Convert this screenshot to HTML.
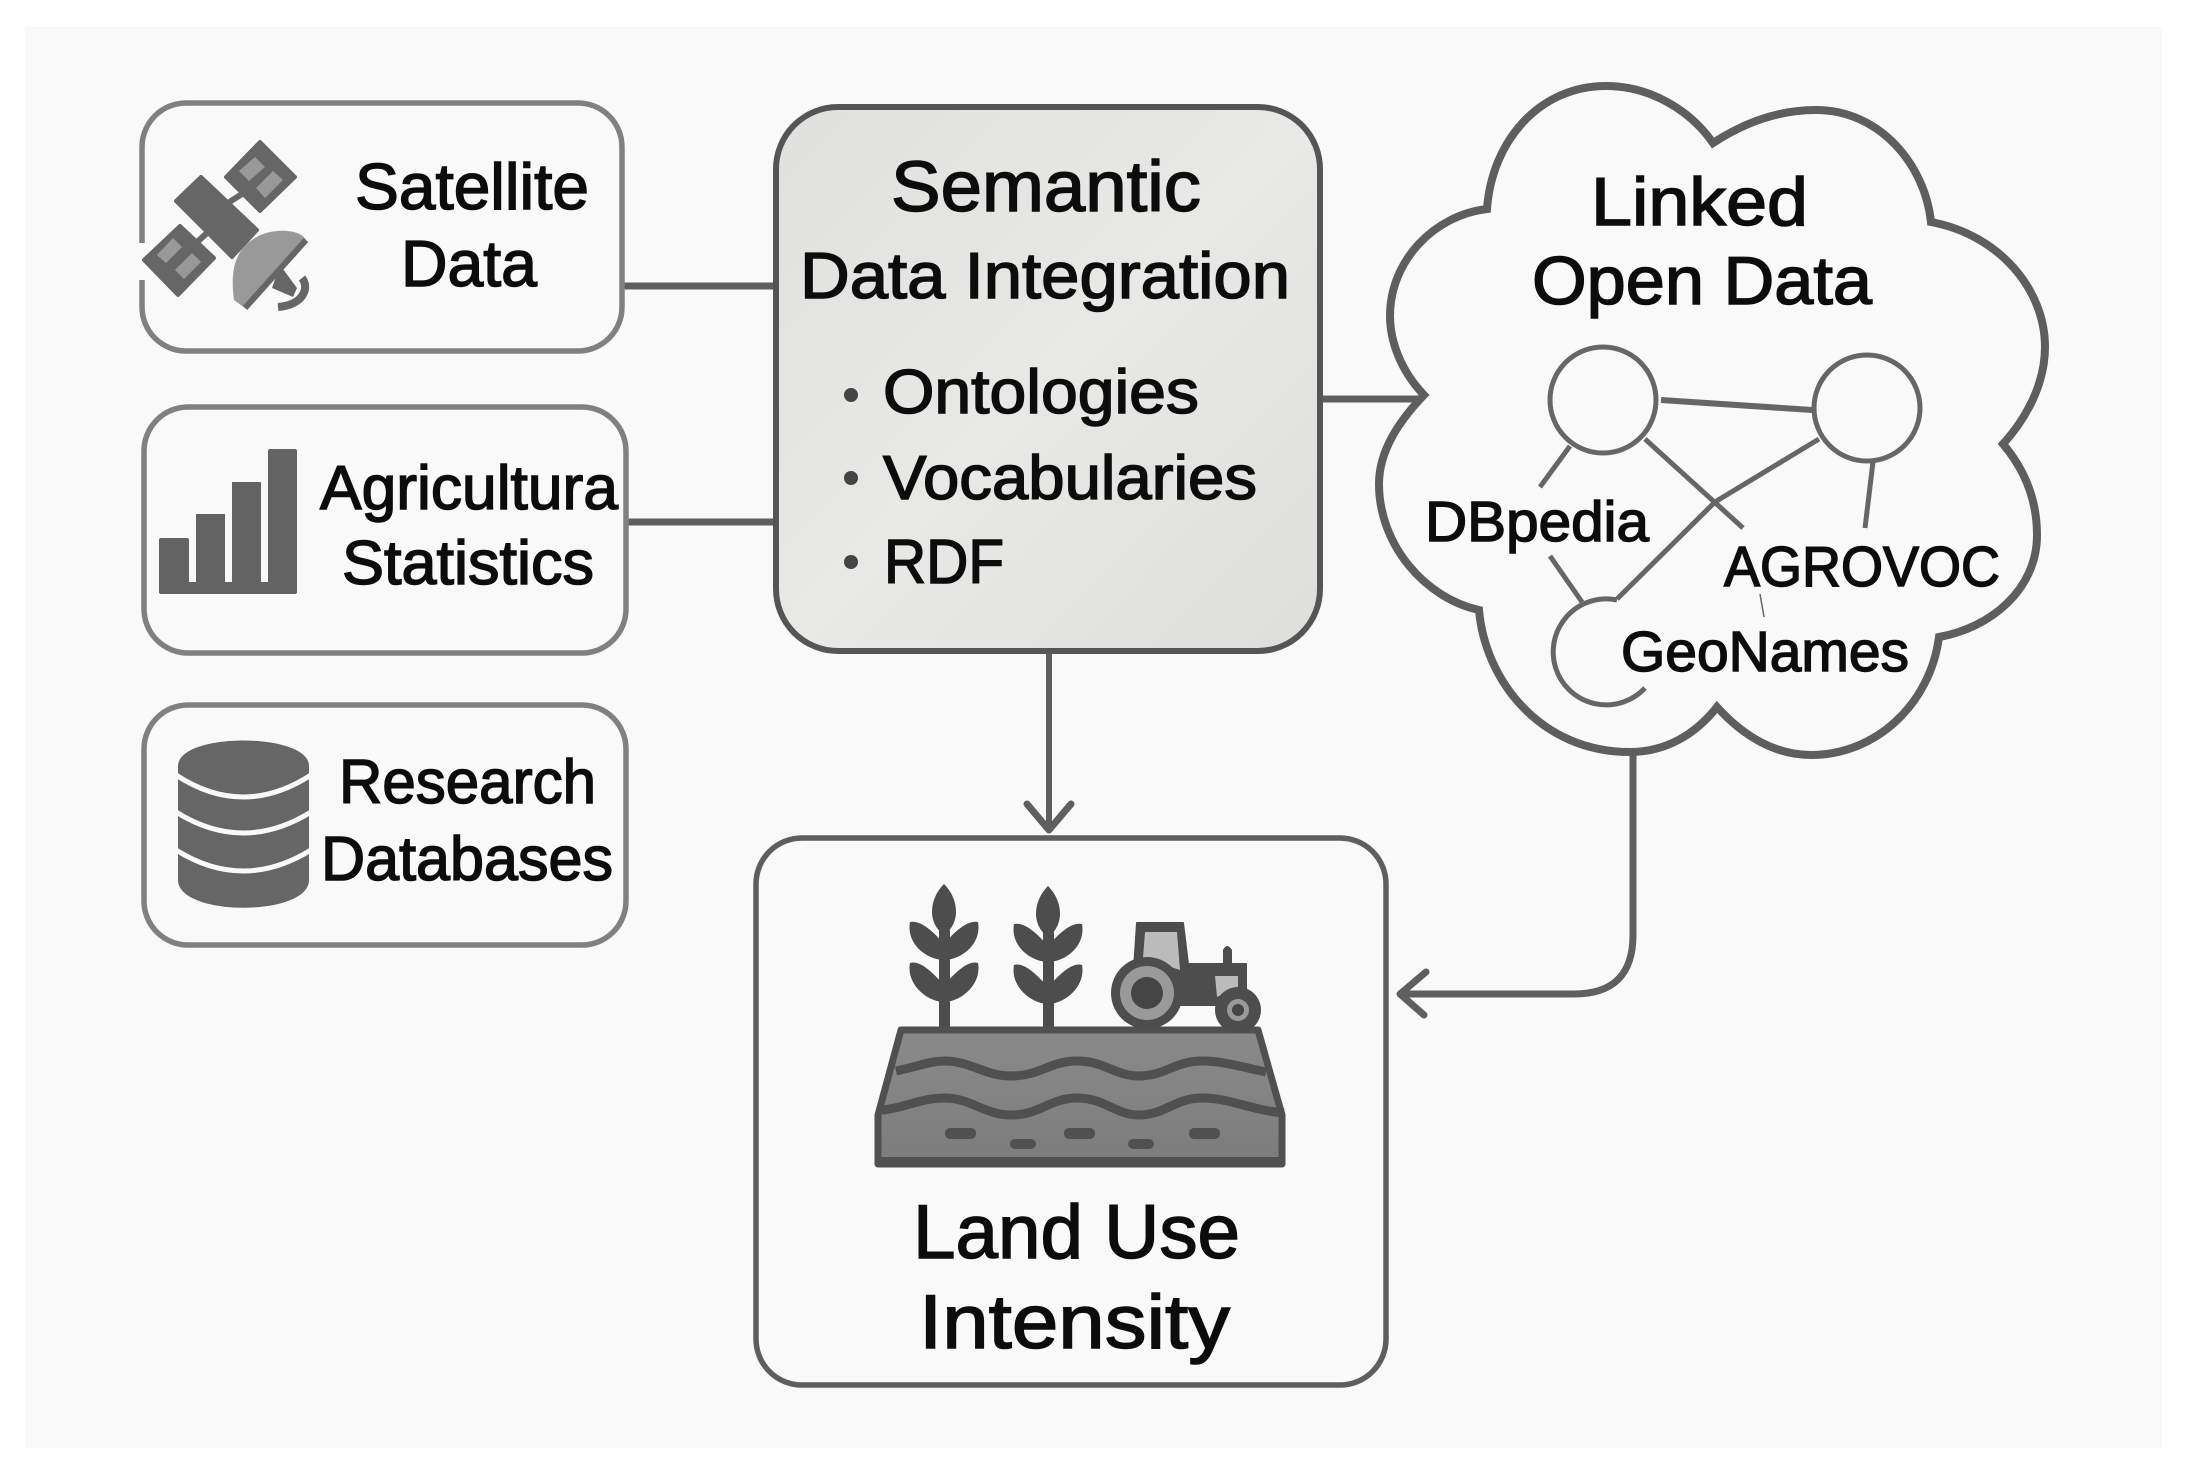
<!DOCTYPE html>
<html><head><meta charset="utf-8"><style>
html,body{margin:0;padding:0;background:#fff}
svg{display:block}
text{font-family:"Liberation Sans",sans-serif;fill:#0c0c0c;stroke:#0c0c0c;stroke-width:1.5px;}
</style></head><body>
<svg xmlns="http://www.w3.org/2000/svg" width="2192" height="1472" viewBox="0 0 2192 1472">
<defs><linearGradient id="g" x1="0" y1="0" x2="1" y2="1"><stop offset="0" stop-color="#e0e0de"/><stop offset=".5" stop-color="#e8e8e6"/><stop offset="1" stop-color="#dededc"/></linearGradient>
<linearGradient id="f" x1="0" y1="0" x2="0" y2="1"><stop offset="0" stop-color="#8a8a8a"/><stop offset="1" stop-color="#7c7c7c"/></linearGradient></defs>
<rect width="2192" height="1472" fill="#fff"/>
<rect x="25" y="27" width="2137" height="1421" fill="#f9f9f9"/>

<!-- connectors -->
<g fill="none" stroke="#5f5f5f" stroke-width="7">
<path d="M622 286H776"/><path d="M626 522H776"/><path d="M1320 399H1424"/>
<path d="M1049 651V828" stroke-width="6"/>
<path d="M1027 804L1049 830L1071 804" stroke-width="7" stroke-linecap="round" stroke-linejoin="round"/>
<path d="M1633 750V935Q1633 994 1574 994H1402"/>
<path d="M1426 972L1400 994L1424 1015" stroke-linecap="round" stroke-linejoin="round"/>
</g>

<!-- source boxes -->
<g fill="#f9f9f9" stroke="#808080" stroke-width="5.5">
<rect x="142" y="103" width="480" height="248" rx="44"/>
<rect x="144" y="407" width="482" height="246" rx="44"/>
<rect x="144" y="705" width="482" height="240" rx="44"/>
</g>
<rect x="138" y="243" width="8" height="37" fill="#f9f9f9"/>

<!-- semantic box -->
<rect x="776" y="107" width="544" height="544" rx="62" fill="url(#g)" stroke="#555" stroke-width="6"/>

<!-- land box -->
<rect x="756" y="838" width="630" height="547" rx="46" fill="#f9f9f9" stroke="#5e5e5e" stroke-width="5.5"/>

<!-- cloud -->
<path fill="#f9f9f9" stroke="#5e5e5e" stroke-width="8" stroke-linejoin="miter" d="M1424 395C1400 370 1390 340 1390 316C1390 260 1435 215 1487 209C1492 140 1540 86 1606 86C1650 86 1690 110 1713 143C1745 122 1780 110 1816 110C1880 110 1925 165 1931 222C2000 235 2045 290 2045 347C2045 385 2025 420 2003 444C2025 470 2037 500 2037 535C2037 590 1990 628 1939 637C1930 705 1875 755 1811 755C1777 755 1745 738 1717 707C1695 735 1665 752 1630 752C1540 752 1485 680 1479 610C1425 598 1379 545 1379 484C1379 450 1400 420 1424 395Z"/>

<!-- LOD graph -->
<g fill="none" stroke="#666" stroke-width="5">
<circle cx="1603" cy="400" r="53"/><circle cx="1867" cy="408" r="53"/>
<path d="M1617 600A53 53 0 1 0 1645 688"/>
<path d="M1661 400L1812 410" stroke-width="6"/>
<path d="M1570 446L1540 487"/><path d="M1645 439L1743 528"/>
<path d="M1819 439L1715 502L1617 599"/><path d="M1873 462L1865 528"/>
<path d="M1550 556L1582 602"/><path d="M1760 594L1764 617" stroke-width="1.5"/>
</g>

<!-- satellite icon -->
<g fill="#666" stroke="#666" stroke-width="4" stroke-linejoin="round">
<path d="M260 142L295 177L260 211L226 177Z"/>
<path d="M201 177L257 230L232 257L176 201Z"/>
<path d="M180 226L214 258L178 295L144 260Z"/>
<path d="M228 203L245 192" stroke-width="6"/><path d="M194 245L208 232" stroke-width="6"/>
</g>
<g fill="#999">
<path d="M255 157L265 167L249 181L239 171Z"/><path d="M273 171L283 180L265 198L256 188Z"/>
<path d="M173 238L182 247L166 263L157 255Z"/><path d="M192 253L201 262L184 279L175 270Z"/>
</g>
<path d="M280 265L297 288L293 297L272 288Z" fill="#666"/>
<path d="M306 240C300 228 270 228 255 238C235 250 230 270 234 300L245 308Z" fill="#999"/>
<path d="M245 308L306 240" stroke="#666" stroke-width="6" fill="none"/>
<path d="M302 278C310 288 303 305 278 307" fill="none" stroke="#666" stroke-width="8"/>

<!-- chart icon -->
<g fill="#636363">
<rect x="159" y="538" width="30" height="56" rx="2"/><rect x="196" y="514" width="29" height="80"/>
<rect x="232" y="482" width="29" height="112"/><rect x="268" y="449" width="29" height="145" rx="2"/>
<rect x="159" y="582" width="138" height="12" rx="3"/>
</g>

<!-- database icon -->
<path d="M178 766C178 732 309 732 309 766V880C309 917 178 917 178 880Z" fill="#666"/>
<g fill="none" stroke="#f9f9f9" stroke-width="5">
<path d="M176 775Q243 819 311 775"/><path d="M176 812Q243 854 311 812"/><path d="M176 850Q243 892 311 850"/>
</g>

<!-- land icon -->
<g fill="#4d4d4d">
<rect x="939" y="930" width="11" height="100"/>
<path d="M944 884C952 892 956 902 956 912C956 922 950 932 944 934C938 932 932 922 932 912C932 902 936 892 944 884Z"/>
<path d="M910 922C920 920 932 930 944 944V960C928 960 906 945 910 922Z"/>
<path d="M978 922C968 920 956 930 944 944V960C960 960 982 945 978 922Z"/>
<path d="M910 963C920 960 932 972 944 985V1002C928 1002 906 985 910 963Z"/>
<path d="M978 963C968 960 956 972 944 985V1002C960 1002 982 985 978 963Z"/>
</g>
<g fill="#4d4d4d" transform="translate(104 2)">
<rect x="939" y="930" width="11" height="98"/>
<path d="M944 884C952 892 956 902 956 912C956 922 950 932 944 934C938 932 932 922 932 912C932 902 936 892 944 884Z"/>
<path d="M910 922C920 920 932 930 944 944V960C928 960 906 945 910 922Z"/>
<path d="M978 922C968 920 956 930 944 944V960C960 960 982 945 978 922Z"/>
<path d="M910 963C920 960 932 972 944 985V1002C928 1002 906 985 910 963Z"/>
<path d="M978 963C968 960 956 972 944 985V1002C960 1002 982 985 978 963Z"/>
</g>
<path d="M901 1030H1258L1282 1115V1164H878V1115Z" fill="url(#f)" stroke="#505050" stroke-width="7" stroke-linejoin="round"/>
<rect x="876" y="1157" width="408" height="10" rx="2" fill="#505050"/>
<g fill="none" stroke="#505050" stroke-width="9">
<path d="M896 1071C920 1066 930 1061 945 1061C970 1061 985 1076 1011 1076C1040 1076 1050 1061 1077 1061C1105 1061 1115 1076 1139 1076C1165 1076 1175 1061 1202 1061C1225 1061 1245 1068 1266 1072"/>
<path d="M882 1110C905 1108 920 1098 945 1098C970 1098 985 1115 1011 1115C1040 1115 1050 1098 1077 1098C1105 1098 1115 1115 1139 1115C1165 1115 1175 1098 1202 1098C1230 1098 1250 1110 1284 1113"/>
</g>
<g fill="#505050">
<rect x="945" y="1128" width="31" height="11" rx="5"/><rect x="1010" y="1139" width="26" height="10" rx="5"/>
<rect x="1064" y="1128" width="31" height="11" rx="5"/><rect x="1128" y="1139" width="26" height="10" rx="5"/>
<rect x="1189" y="1128" width="31" height="11" rx="5"/>
</g>
<g fill="#4d4d4d">
<path d="M1137 923H1183L1188 964H1246V1005H1150V985H1133Z" stroke="#4d4d4d" stroke-width="2" stroke-linejoin="round"/>
<path d="M1223 966V950Q1227 942 1232 950V966Z"/>
</g>
<path d="M1145 932H1177L1180 970L1143 958Z" fill="#bbb"/>
<path d="M1215 976H1238V987L1217 997Z" fill="#bbb"/>
<circle cx="1147" cy="993" r="36" fill="#4d4d4d"/>
<circle cx="1147" cy="993" r="27" fill="#999"/><circle cx="1147" cy="993" r="16" fill="#454545"/>
<circle cx="1238" cy="1010" r="23" fill="#4d4d4d"/>
<circle cx="1238" cy="1010" r="11" fill="#999"/><circle cx="1238" cy="1010" r="6" fill="#454545"/>

<!-- bullets -->
<g fill="#444"><circle cx="851" cy="395" r="7"/><circle cx="851" cy="478" r="7"/><circle cx="851" cy="562" r="7"/></g>

<!-- text -->
<g font-size="65">
<text x="355" y="209" textLength="234" lengthAdjust="spacingAndGlyphs">Satellite</text>
<text x="401" y="286" textLength="136" lengthAdjust="spacingAndGlyphs">Data</text>
<text x="320" y="509" font-size="62" textLength="298" lengthAdjust="spacingAndGlyphs">Agricultura</text>
<text x="342" y="584" font-size="62" textLength="252" lengthAdjust="spacingAndGlyphs">Statistics</text>
<text x="339" y="803" font-size="62" textLength="257" lengthAdjust="spacingAndGlyphs">Research</text>
<text x="321" y="880" font-size="62" textLength="292" lengthAdjust="spacingAndGlyphs">Databases</text>
<text x="891" y="211" font-size="71" textLength="310" lengthAdjust="spacingAndGlyphs">Semantic</text>
<text x="800" y="298" textLength="490" lengthAdjust="spacingAndGlyphs">Data Integration</text>
<g style="stroke-width:.8px">
<text x="883" y="413" font-size="62" textLength="316" lengthAdjust="spacingAndGlyphs">Ontologies</text>
<text x="883" y="499" font-size="62" textLength="374" lengthAdjust="spacingAndGlyphs">Vocabularies</text>
<text x="884" y="583" font-size="62" textLength="120" lengthAdjust="spacingAndGlyphs">RDF</text>
</g>
<text x="1591" y="225" font-size="68" textLength="217" lengthAdjust="spacingAndGlyphs">Linked</text>
<text x="1532" y="304" font-size="68" textLength="340" lengthAdjust="spacingAndGlyphs">Open Data</text>
<text x="1425" y="541" font-size="57" textLength="224" lengthAdjust="spacingAndGlyphs">DBpedia</text>
<text x="1724" y="586" font-size="57" textLength="276" lengthAdjust="spacingAndGlyphs">AGROVOC</text>
<text x="1621" y="671" font-size="57" textLength="288" lengthAdjust="spacingAndGlyphs">GeoNames</text>
<text x="913" y="1258" font-size="76" textLength="327" lengthAdjust="spacingAndGlyphs">Land Use</text>
<text x="919" y="1348" font-size="76" textLength="311" lengthAdjust="spacingAndGlyphs">Intensity</text>
</g>
</svg>
</body></html>
